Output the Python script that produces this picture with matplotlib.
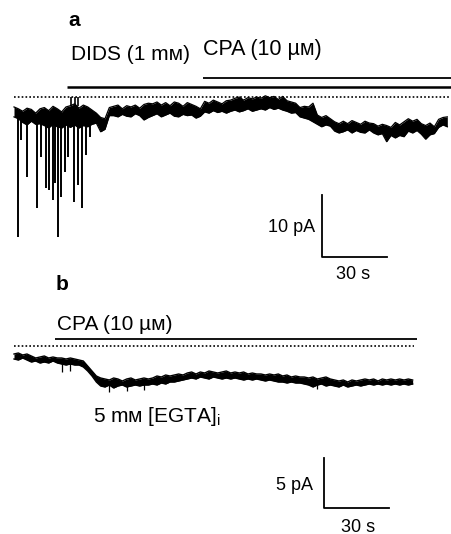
import numpy as np
import matplotlib
matplotlib.use('Agg')
import matplotlib.pyplot as plt

plt.rcParams['font.family'] = ['Liberation Sans', 'DejaVu Sans']
plt.rcParams['mathtext.fontset'] = 'custom'
plt.rcParams['mathtext.rm'] = 'Liberation Sans'

# ---- panel a : noise band of the current (pA), read every 2 s, 0..200 s
time_a = np.arange(0, 201, 2)
upper_a = [
    -1.6, -1.9,
    -2.3, -1.8, -2.0, -2.6, -1.9,
    -1.7, -2.2, -1.5, -1.9, -2.4, -1.6,
    -1.4, -1.1, -1.8, -1.3, -1.6,
    -2.1, -2.6,
    -3.3, -3.5,
    -1.7,
    -1.5, -1.3, -1.9, -1.4, -1.6, -1.3, -1.8,
    -1.2, -1.0,
    -1.1, -0.8, -1.3, -0.9, -1.4, -0.8, -1.0, -1.5, -0.9, -1.2,
    -1.5, -1.9,
    -0.7, -1.0, -0.5, -0.8, -1.1, -0.6, -0.5,
    -0.2, 0.0, -0.5, -0.1, -0.3, 0.0,
    -0.2, 0.2, -0.1, 0.1, -0.4, 0.1,
    -0.6, -0.8, -1.0,
    -1.7, -1.5,
    -1.6, -1.0,
    -2.9, -3.3, -3.0, -3.5,
    -4.0, -4.3,
    -3.9, -4.3, -3.8, -4.1, -4.4, -3.9, -4.2,
    -4.3, -4.7, -4.4,
    -4.6, -4.9,
    -4.1, -4.5, -4.0,
    -3.5, -3.9, -3.6,
    -4.3, -4.6, -4.2, -4.8,
    -3.6, -3.3, -3.2,
]
lower_a = [
    -3.2, -3.5,
    -4.1, -4.5, -3.9, -4.4, -4.3,
    -4.6, -5.0, -4.4, -4.8, -5.0, -4.5,
    -4.9, -4.5, -5.0, -4.6, -4.8,
    -4.4, -4.2,
    -5.6, -5.2,
    -3.0,
    -3.0, -3.2, -2.8, -3.1, -3.2, -2.7, -3.0,
    -3.7, -3.3,
    -3.0, -2.7, -3.2, -2.9, -2.6, -3.1, -3.2, -2.8, -3.0, -2.9,
    -3.4, -3.1,
    -2.4, -2.6, -2.2, -2.5, -2.3, -2.6, -2.3,
    -2.1, -2.4, -2.2, -1.9, -2.3, -2.1,
    -1.9, -2.1, -1.7, -2.0, -1.8, -2.1,
    -2.3, -2.6, -2.5,
    -3.2, -3.4,
    -3.6, -4.0,
    -4.4, -4.8, -4.5, -4.7,
    -5.5, -5.8,
    -5.6, -5.3, -5.8, -5.4, -5.7, -5.8, -5.3,
    -5.8, -6.1, -5.9,
    -7.2, -6.2,
    -6.6, -6.2, -6.4,
    -5.5, -5.8, -5.4,
    -6.0, -6.8, -6.1, -5.9,
    -4.9, -4.5, -4.8,
]
# fast inward transients during DIDS wash-in
spike_t = [2.0, 3.2, 6.0, 10.6, 12.5, 14.8, 16.2, 18.0, 18.9, 20.3,
           21.7, 23.5, 24.9, 27.7, 29.5, 31.4, 33.2, 35.1]
spike_i = [-22.6, -6.9, -12.9, -17.9, -9.7, -14.7, -15.0, -16.6, -13.9, -22.6,
           -16.1, -12.1, -9.7, -16.9, -14.2, -17.9, -9.4, -6.5]
up_t = [26.3, 28.2, 29.5]
up_i = [0.0, 0.0, 0.0]

# ---- panel b : noise band of the current (pA), read every 2 s, 0..184 s
time_b = np.arange(0, 185, 2)
upper_b = [
    -0.8, -0.7, -0.9, -0.8,
    -1.0, -1.2, -1.1, -1.0, -1.2, -1.1, -1.2,
    -1.2, -1.3, -1.2, -1.3, -1.4,
    -1.5, -2.0, -2.5, -3.0,
    -3.2, -3.3, -3.4, -3.2, -3.3, -3.5, -3.3, -3.2, -3.4, -3.3, -3.2, -3.3,
    -3.2, -3.0, -3.1, -2.9, -3.0, -2.9, -2.8, -2.9,
    -2.7, -2.6, -2.8, -2.6, -2.7, -2.5, -2.6, -2.7, -2.6, -2.5, -2.7, -2.6,
    -2.7, -2.6, -2.8, -2.7, -2.8,
    -2.8, -2.9, -2.8, -2.9, -2.8,
    -3.0, -2.9, -3.1, -3.0, -3.1,
    -3.1, -3.2, -3.1, -3.3, -3.2, -3.1, -3.3,
    -3.4, -3.5, -3.4, -3.6, -3.4, -3.5, -3.4,
    -3.3, -3.4, -3.3, -3.5, -3.3, -3.4, -3.3, -3.4, -3.3, -3.4, -3.3, -3.4,
]
lower_b = [
    -1.3, -1.4, -1.2, -1.4,
    -1.6, -1.5, -1.7, -1.6, -1.7, -1.5, -1.7,
    -1.8, -1.9, -1.8, -1.9, -1.9,
    -2.1, -2.5, -3.0, -3.6,
    -4.0, -4.1, -3.9, -4.2, -4.0, -3.9, -4.1, -4.0, -3.9, -4.0, -3.9, -3.9,
    -3.8, -3.9, -3.7, -3.8, -3.6, -3.6, -3.5, -3.4,
    -3.3, -3.2, -3.3, -3.1, -3.2, -3.3, -3.1, -3.2, -3.3, -3.2, -3.3, -3.2,
    -3.3, -3.4, -3.3, -3.4, -3.3,
    -3.4, -3.5, -3.4, -3.5, -3.6,
    -3.6, -3.7, -3.6, -3.7, -3.7,
    -3.8, -3.9, -4.1, -3.9, -3.8, -4.0, -3.9,
    -4.0, -4.1, -3.9, -4.1, -4.0, -3.9, -4.0,
    -3.9, -3.8, -3.9, -3.8, -3.9, -3.8, -3.9, -3.8, -3.9, -3.8, -3.9, -3.8,
]
spike_b_t = [22.2, 25.8, 44.0, 52.0, 60.0, 140.0]
spike_b_top = [-1.6, -1.6, -3.9, -3.9, -3.8, -3.7]
spike_b_i = [-2.6, -2.5, -4.6, -4.5, -4.4, -4.3]

# drug application bars (start, end in s)
dids_a = (24.5, 201.7)
cpa_a = (87.2, 201.7)
cpa_b = (18.9, 186.0)


def draw_band(ax, t, lo, hi, lw):
    ax.fill_between(t, lo, hi, color='black', lw=0)
    ax.plot(t, hi, color='black', lw=lw)
    ax.plot(t, lo, color='black', lw=lw)


fig = plt.figure(figsize=(4.51, 5.34), dpi=100)
ax_a = fig.add_axes([0, 1 - 300 / 534, 1, 300 / 534])
ax_b = fig.add_axes([0, 0, 1, 234 / 534])
for ax in (ax_a, ax_b):
    ax.axis('off')
ax_a.set_xlim(-6.46, 201.7)
ax_a.set_ylim(-32.74, 15.65)
ax_b.set_xlim(-6.46, 201.7)
ax_b.set_ylim(-18.8, 4.6)

k = 'black'
fs = 15

# ---- panel a
draw_band(ax_a, time_a, lower_a, upper_a, 0.9)
ax_a.vlines(spike_t, -3.0, spike_i, color=k, lw=1.4)
ax_a.vlines(up_t, -1.5, up_i, color=k, lw=1.2)
ax_a.hlines(0, 0, 201.7, color=k, lw=1.2, linestyles=(0, (1, 1.3)))
ax_a.hlines(1.61, *dids_a, color=k, lw=1.8)
ax_a.hlines(3.06, *cpa_a, color=k, lw=1.3)
ax_a.text(24.9, 12.4, 'a', fontsize=fs, fontweight='bold', va='center', ha='left')
ax_a.text(26.5, 6.9, 'DIDS (1 mᴍ)', fontsize=fs, va='center', ha='left')
ax_a.text(87.2, 7.7, 'CPA (10 µᴍ)', fontsize=15.5, va='center', ha='left')
# scale bar 10 pA / 30 s
ax_a.plot([142.1, 142.1, 172.1], [-15.8, -25.8, -25.8], color=k, lw=1.3)
ax_a.text(138.9, -21.0, '10 pA', fontsize=13, va='center', ha='right')
ax_a.text(156.5, -28.6, '30 s', fontsize=13, va='center', ha='center')

# ---- panel b
draw_band(ax_b, time_b, lower_b, upper_b, 1.0)
ax_b.vlines(spike_b_t, spike_b_top, spike_b_i, color=k, lw=0.9)
ax_b.hlines(0, 0, 184.6, color=k, lw=1.2, linestyles=(0, (1, 1.3)))
ax_b.hlines(0.7, *cpa_b, color=k, lw=1.3)
ax_b.text(19.2, 6.2, 'b', fontsize=fs, fontweight='bold', va='center', ha='left')
ax_b.text(19.8, 2.1, 'CPA (10 µᴍ)', fontsize=fs, va='center', ha='left')
ax_b.text(36.5, -7.0, r'5 mᴍ [EGTA]$_\mathregular{i}$', fontsize=fs, va='center', ha='left')
# scale bar 5 pA / 30 s
ax_b.plot([143.1, 143.1, 173.1], [-11.2, -16.2, -16.2], color=k, lw=1.3)
ax_b.text(138.0, -13.9, '5 pA', fontsize=13, va='center', ha='right')
ax_b.text(159.0, -18.1, '30 s', fontsize=13, va='center', ha='center')

fig.savefig('out.png', dpi=100)
